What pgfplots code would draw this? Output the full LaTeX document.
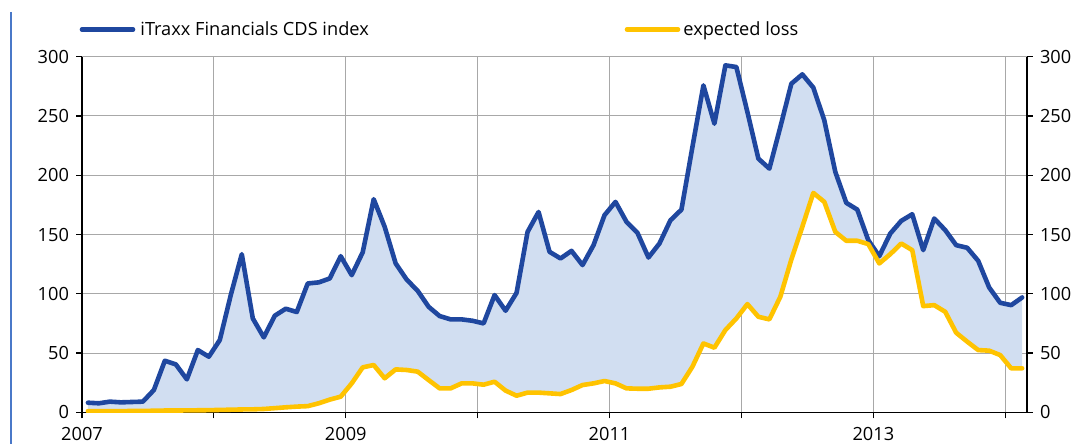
\documentclass[border=0pt]{standalone}
\usepackage{fontspec}
\setmainfont{Open Sans}
\usepackage{pgfplots}
\pgfplotsset{compat=1.18}
\usepackage{pgfplotstable}
\usepgfplotslibrary{fillbetween}
\definecolor{cdsblue}{HTML}{1F479F}
\definecolor{elyellow}{HTML}{FFC300}
\definecolor{bandfill}{HTML}{D1DEF1}
\definecolor{gridgray}{HTML}{A8A8A8}
\definecolor{sideblue}{HTML}{4A78C8}

\pgfplotstableread{
m blue yellow
0 8.1 1.0
1 7.6 1.0
2 9.0 1.0
3 8.4 1.0
4 8.7 1.1
5 9.0 1.2
6 18.8 1.3
7 43.5 1.5
8 40.4 1.5
9 27.8 1.6
10 52.5 1.7
11 46.9 1.8
12 61.0 2.0
13 99.0 2.2
14 133.4 2.4
15 79.2 2.5
16 63.2 2.8
17 81.5 3.5
18 87.4 4.2
19 84.6 4.8
20 108.7 5.2
21 109.6 7.6
22 112.9 10.7
23 131.7 13.2
24 115.7 24.4
25 135.0 37.9
26 179.8 39.9
27 156.5 28.7
28 125.6 36.2
29 112.0 35.7
30 102.5 34.3
31 89.0 27.2
32 81.2 20.2
33 78.4 20.2
34 78.4 24.4
35 77.2 24.4
36 75.0 23.3
37 98.9 25.8
38 85.7 18.3
39 100.8 14.0
40 152.2 16.6
41 169.0 16.6
42 135.4 16.0
43 129.8 15.4
44 136.2 18.8
45 124.2 23.0
46 141.0 24.4
47 166.3 26.4
48 177.5 24.4
49 160.7 20.2
50 151.4 19.9
51 130.6 19.9
52 142.4 21.0
53 162.0 21.6
54 171.0 23.9
55 223.9 38.5
56 275.8 58.1
57 243.5 54.5
58 292.7 69.4
59 291.3 79.2
60 253.4 91.3
61 214.0 80.6
62 205.6 78.4
63 240.7 97.5
64 277.2 128.9
65 285.1 156.5
66 273.9 185.1
67 246.3 177.5
68 202.8 152.2
69 176.7 144.7
70 171.0 144.7
71 145.2 141.9
72 131.7 125.6
73 150.8 133.4
74 161.5 142.4
75 167.1 136.8
76 136.8 89.6
77 163.5 90.4
78 153.7 84.8
79 141.0 67.1
80 138.8 59.6
81 127.8 52.5
82 105.3 52.0
83 92.4 48.3
84 90.4 37.1
85 96.9 37.1
}\datatable

\newcommand\chartfont{\fontsize{9.1}{11}\selectfont}

\begin{document}
\begin{tikzpicture}
\pgfplotsset{
  common/.style={
    at={(0,0)}, anchor=south west,
    scale only axis, width=472.5pt, height=177.8pt,
    xmin=2007, xmax=2014.165, ymin=0, ymax=300,
    ytick={0,50,...,300},
    tick align=outside, major tick length=3pt,
    tick style={black, line width=0.6pt},
    ticklabel style={font=\chartfont},
    /pgf/number format/assume math mode=true,
    axis line style={black, line width=0.65pt, -},
  }
}
\begin{axis}[common,
    axis x line*=bottom, axis y line*=left,
    xtick={2007,2008,...,2014},
    xticklabels={2007,,2009,,2011,,2013,},
    grid=major, major grid style={gridgray, line width=0.5pt},
    xticklabel style={yshift=-1pt},
  ]
  \addplot[draw=none, name path=cds] table[x expr=2007.045+\thisrow{m}/12, y=blue] {\datatable};
  \addplot[draw=none, name path=el] table[x expr=2007.045+\thisrow{m}/12, y=yellow] {\datatable};
  \addplot[bandfill, draw=none] fill between[of=cds and el];
  \addplot[cdsblue, line width=2.3pt, line join=round, line cap=round] table[x expr=2007.045+\thisrow{m}/12, y=blue] {\datatable};
  \addplot[elyellow, line width=2.3pt, line join=round, line cap=round] table[x expr=2007.045+\thisrow{m}/12, y=yellow] {\datatable};
\end{axis}
\begin{axis}[common,
    axis x line*=bottom, axis y line*=right,
    xtick=\empty, x axis line style={draw=none},
  ]
  \addplot[draw=none] coordinates {(2007.5,0) (2014,300)};
\end{axis}
% legend
\draw[cdsblue, line width=2.3pt, line cap=round] (0pt,191.4pt) -- (25.5pt,191.4pt);
\node[anchor=base west, inner sep=0pt, font=\chartfont] at (29pt,188.6pt) {iTraxx Financials CDS index};
\draw[elyellow, line width=2.3pt, line cap=round] (272.5pt,191.4pt) -- (298pt,191.4pt);
\node[anchor=base west, inner sep=0pt, font=\chartfont] at (300.5pt,188.6pt) {expected loss};
% side rule
\draw[sideblue, line width=0.6pt] (-35.5pt,200.15pt) -- (-35.5pt,-15.85pt);
\path (-41pt,-15.85pt) rectangle (502pt,206.15pt);
\end{tikzpicture}
\end{document}
